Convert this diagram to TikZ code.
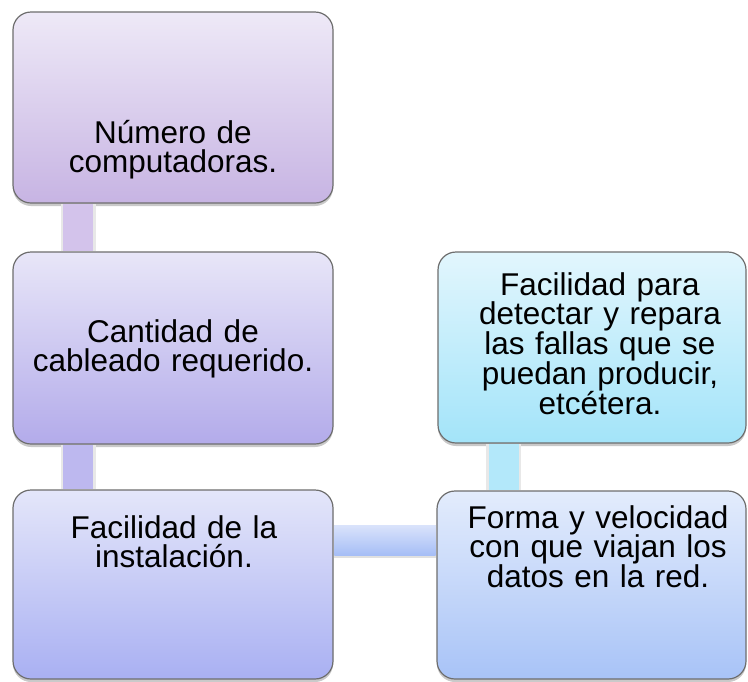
\documentclass[tikz,border=0pt]{standalone}
\usepackage{fontspec}
\setmainfont{Liberation Sans}
\usetikzlibrary{shadows}
\definecolor{bordc}{HTML}{6E6E6E}
\definecolor{c1t}{HTML}{EEE9F7}\definecolor{c1b}{HTML}{C7B4E3}
\definecolor{c2t}{HTML}{E8E6F8}\definecolor{c2b}{HTML}{B3ABEA}
\definecolor{c3t}{HTML}{E4E6FA}\definecolor{c3b}{HTML}{A9B0F2}
\definecolor{c4t}{HTML}{E3ECFC}\definecolor{c4b}{HTML}{A8C3F7}
\definecolor{c5t}{HTML}{E2F6FD}\definecolor{c5b}{HTML}{A3E4F9}
\definecolor{bar1}{HTML}{D3C3EB}\definecolor{bar2}{HTML}{BDB8EF}
\definecolor{barht}{HTML}{DAE3FB}\definecolor{barhb}{HTML}{A6BEF6}
\definecolor{bar4}{HTML}{B3E8FA}
\tikzset{
  box/.style={draw=bordc, line width=1.2pt, rounded corners=18pt, inner sep=0pt,
    drop shadow={shadow xshift=0pt, shadow yshift=-3pt, opacity=0.35, fill=black!60}},
  txt/.style={anchor=base, text width=300pt, align=center, inner sep=0pt,
    font=\fontsize{31.5}{29.7}\selectfont},
  barshadow/.style={line width=35pt, draw=black!9},
  barv/.style={line width=30pt}
}
\begin{document}
\begin{tikzpicture}[x=1pt,y=-1pt]
\useasboundingbox (0,0) rectangle (748,681);
\fill[white] (0,0) rectangle (748,681);
% boxes
\node[box, minimum width=320pt, minimum height=191pt, top color=c1t, bottom color=c1b] (b1) at (173,107.5) {};
\node[box, minimum width=320pt, minimum height=192pt, top color=c2t, bottom color=c2b] (b2) at (173,348) {};
\node[box, minimum width=320pt, minimum height=189pt, top color=c3t, bottom color=c3b] (b3) at (173,584.5) {};
\node[box, minimum width=309pt, minimum height=188pt, top color=c4t, bottom color=c4b] (b4) at (591.5,585) {};
\node[box, minimum width=308pt, minimum height=191pt, top color=c5t, bottom color=c5b] (b5) at (592,347.5) {};
% connectors
\coordinate (v1) at (78,0);
\coordinate (v4) at (503.5,0);
\coordinate (ht) at (0,525);
\coordinate (hb) at (0,555);
\coordinate (hs) at (0,557.5);
\draw[barshadow] ([yshift=-0.7pt]b1.south -| v1) -- ([yshift=0.7pt]b2.north -| v1);
\draw[barv, draw=bar1] ([yshift=-0.7pt]b1.south -| v1) -- ([yshift=0.7pt]b2.north -| v1);
\draw[barshadow] ([yshift=-0.7pt]b2.south -| v1) -- ([yshift=0.7pt]b3.north -| v1);
\draw[barv, draw=bar2] ([yshift=-0.7pt]b2.south -| v1) -- ([yshift=0.7pt]b3.north -| v1);
\draw[barshadow] ([yshift=-0.7pt]b5.south -| v4) -- ([yshift=0.7pt]b4.north -| v4);
\draw[barv, draw=bar4] ([yshift=-0.7pt]b5.south -| v4) -- ([yshift=0.7pt]b4.north -| v4);
\fill[black!12] ([xshift=0.7pt]b3.east |- ht) rectangle ([xshift=-0.7pt]b4.west |- hs);
\shade[top color=barht, bottom color=barhb] ([xshift=0.7pt]b3.east |- ht) rectangle ([xshift=-0.7pt]b4.west |- hb);
% texts
\node[txt] (t1) at (173,143) {Número de\\computadoras.};
\node[txt] (t2) at (173,342) {Cantidad de\\cableado requerido.};
\node[txt] (t3) at (174,538) {Facilidad de la\\instalación.};
\node[txt] (t4) at (598,528) {Forma y velocidad\\con que viajan los\\datos en la red.};
\node[txt] (t5) at (600,295) {Facilidad para\\detectar y repara\\las fallas que se\\puedan producir,\\etcétera.};
\end{tikzpicture}
\end{document}
